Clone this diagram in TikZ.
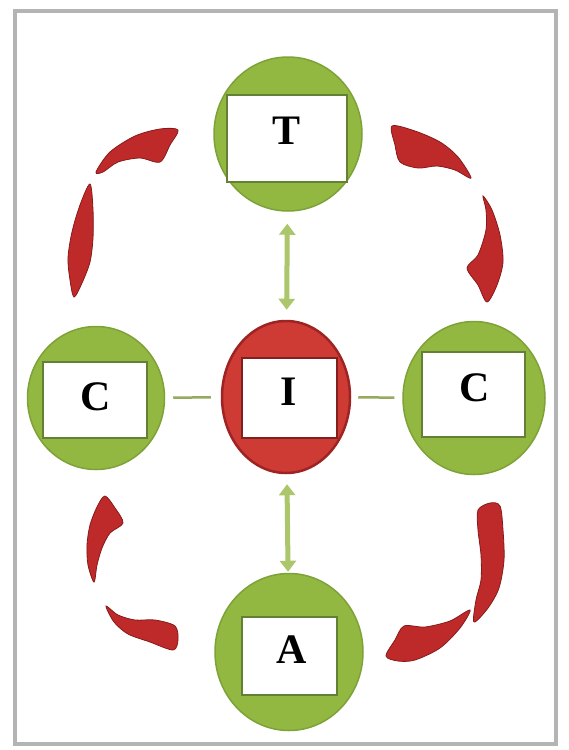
\documentclass[tikz,border=0pt]{standalone}
\usepackage{fontspec}
\setmainfont{Liberation Serif}
\usetikzlibrary{shapes.geometric,arrows.meta}
\definecolor{cgreen}{RGB}{146,184,66}
\definecolor{cgreenrim}{RGB}{125,162,55}
\definecolor{boxrim}{RGB}{100,128,52}
\definecolor{cred}{RGB}{206,58,52}
\definecolor{credrim}{RGB}{158,35,35}
\definecolor{boxredrim}{RGB}{130,32,32}
\definecolor{arrowred}{RGB}{190,42,42}
\definecolor{arrowdark}{RGB}{135,25,25}
\definecolor{linkgreen}{RGB}{172,198,108}
\definecolor{hgreen}{RGB}{150,170,95}
\definecolor{framegray}{RGB}{180,180,180}
\begin{document}
\begin{tikzpicture}[x=1pt,y=-1pt,
  disc/.style={ellipse, inner sep=0pt, fill=cgreen, draw=cgreenrim, line width=1.5pt},
  reddisc/.style={ellipse, inner sep=0pt, fill=cred, draw=credrim, line width=2.5pt},
  labelbox/.style={rectangle, inner sep=0pt, fill=white, draw=boxrim, line width=2.5pt},
  redbox/.style={labelbox, draw=boxredrim},
  labeltext/.style={font=\bfseries\fontsize{42}{44}\selectfont, inner sep=0pt},
  vlink/.style={draw=linkgreen, line width=5pt, {Triangle[width=16pt,length=11pt]}-{Triangle[width=16pt,length=11pt]}},
  hlink/.style={draw=hgreen, line width=2.5pt},
  bendarrow/.style={fill=arrowred, draw=arrowdark, line width=0.8pt}]
\useasboundingbox (0,0) rectangle (569,750);
\fill[white] (0,0) rectangle (569,750);
\draw[framegray, line width=4pt] (15,11) rectangle (556,744);

% discs
\node[disc, minimum width=148pt, minimum height=154pt] (Tc) at (288,134) {};
\node[disc, minimum width=137pt, minimum height=143pt] (Lc) at (96,398) {};
\node[reddisc, minimum width=128pt, minimum height=152pt] (Ic) at (286,397) {};
\node[disc, minimum width=142pt, minimum height=153pt] (Rc) at (474,398) {};
\node[disc, minimum width=148pt, minimum height=157pt] (Ac) at (289,652) {};

% boxes
\node[labelbox, minimum width=120pt, minimum height=87pt] (Tb) at (287,138.5) {};
\node[labelbox, minimum width=104pt, minimum height=76pt] (Lb) at (95,400) {};
\node[redbox, minimum width=95pt, minimum height=80pt] (Ib) at (289.5,398) {};
\node[labelbox, minimum width=103pt, minimum height=85pt] (Rb) at (473.5,394.5) {};
\node[labelbox, minimum width=95pt, minimum height=78pt] (Ab) at (289.5,656) {};

% labels
\node[labeltext] (Tt) at (287,131) {T};
\node[labeltext] (Lt) at (96,397) {C};
\node[labeltext] (It) at (289,392) {I};
\node[labeltext] (Rt) at (475,388) {C};
\node[labeltext] (At) at (292,650) {A};

% green links
\draw[vlink, shorten <=12pt, shorten >=10pt] (Tc) -- (Ic);
\draw[vlink, shorten <=10pt, shorten >=1pt] (Ic) -- (Ac);
\draw[hlink, shorten <=8pt, shorten >=10pt] (Lc) -- (Ic);
\draw[hlink, shorten <=7pt, shorten >=8pt] (Ic) -- (Rc);

% red curved arrows: top-left
\draw[bendarrow] plot[smooth cycle, tension=0.5] coordinates {(96,172) (110,152) (135,136) (160,129) (178,130) (170,145) (160,162) (140,158) (118,162) (103,172)};
\draw[bendarrow] plot[smooth cycle, tension=0.5] coordinates {(90,184) (80,205) (72,232) (68,258) (70,280) (74,297) (82,283) (90,262) (93,238) (93,210)};
% top-right
\draw[bendarrow] plot[smooth cycle, tension=0.5] coordinates {(392,126) (415,131) (440,142) (458,157) (471,178) (455,170) (437,166) (418,168) (400,162) (395,145)};
\draw[bendarrow] plot[smooth cycle, tension=0.5] coordinates {(483,196) (492,210) (500,235) (503,262) (497,285) (487,302) (478,285) (467,268) (478,255) (486,230) (486,210)};
% bottom-left
\draw[bendarrow] plot[smooth cycle, tension=0.5] coordinates {(105,496) (115,508) (123,523) (110,533) (102,548) (97,565) (94,582) (88,565) (87,545) (90,525) (97,507)};
\draw[bendarrow] plot[smooth cycle, tension=0.5] coordinates {(106,606) (118,615) (135,620) (155,620) (175,626) (178,640) (173,650) (150,642) (128,634) (114,622)};
% bottom-right
\draw[bendarrow] plot[smooth cycle, tension=0.5] coordinates {(386,656) (395,640) (404,626) (425,627) (450,621) (470,610) (460,628) (440,648) (415,660) (398,661)};
\draw[bendarrow] plot[smooth cycle, tension=0.5] coordinates {(478,510) (490,503) (500,506) (503,530) (504,560) (499,588) (488,608) (474,622) (476,600) (481,580) (481,555) (478,530)};
\end{tikzpicture}
\end{document}
